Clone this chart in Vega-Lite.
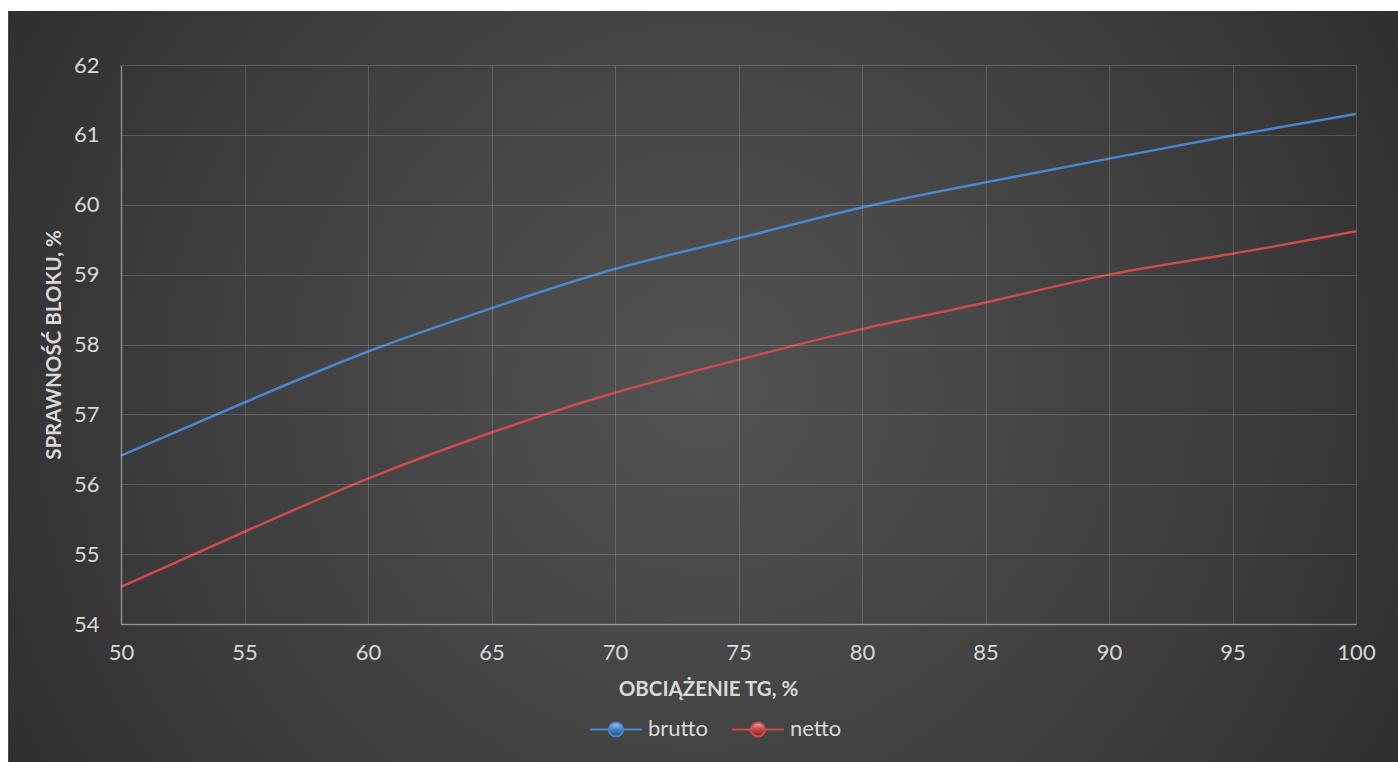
{
  "$schema": "https://vega.github.io/schema/vega-lite/v6.json",
  "width": 1235,
  "height": 559,
  "autosize": {"type": "none"},
  "padding": {"left": 121, "top": 65, "right": 42, "bottom": 138},
  "background": "#ffffff",
  "config": {
    "view": {"stroke": null},
    "font": "Lato",
    "axis": {
      "labelColor": "#d9d9d9",
      "labelFont": "Lato",
      "labelFontSize": 22,
      "labelFlush": false,
      "titleColor": "#d9d9d9",
      "titleFont": "Lato",
      "titleFontSize": 20.5,
      "titleFontWeight": "bold",
      "gridColor": "#d9d9d9",
      "gridOpacity": 0.2,
      "gridWidth": 1,
      "domainColor": "#d9d9d9",
      "domainOpacity": 0.45,
      "domainWidth": 1.5,
      "ticks": false
    }
  },
  "layer": [
    {
      "data": {"values": [{}]},
      "mark": {
        "type": "rect",
        "color": {
          "gradient": "radial",
          "x1": 0.5, "y1": 0.5, "r1": 0,
          "x2": 0.5, "y2": 0.5, "r2": 0.72,
          "stops": [
            {"offset": 0, "color": "#525252"},
            {"offset": 0.55, "color": "#3c3c3c"},
            {"offset": 1, "color": "#232323"}
          ]
        }
      },
      "encoding": {
        "x": {"datum": 45.43, "type": "quantitative"},
        "x2": {"datum": 101.7},
        "y": {"datum": 62.773, "type": "quantitative"},
        "y2": {"datum": 52.02}
      }
    },
    {
      "data": {
        "values": [
          {"load": 50, "eff": 56.41, "series": "brutto"},
          {"load": 55, "eff": 57.17, "series": "brutto"},
          {"load": 60, "eff": 57.90, "series": "brutto"},
          {"load": 65, "eff": 58.52, "series": "brutto"},
          {"load": 70, "eff": 59.08, "series": "brutto"},
          {"load": 75, "eff": 59.52, "series": "brutto"},
          {"load": 80, "eff": 59.96, "series": "brutto"},
          {"load": 85, "eff": 60.32, "series": "brutto"},
          {"load": 90, "eff": 60.66, "series": "brutto"},
          {"load": 95, "eff": 60.99, "series": "brutto"},
          {"load": 100, "eff": 61.30, "series": "brutto"},
          {"load": 50, "eff": 54.53, "series": "netto"},
          {"load": 55, "eff": 55.32, "series": "netto"},
          {"load": 60, "eff": 56.08, "series": "netto"},
          {"load": 65, "eff": 56.74, "series": "netto"},
          {"load": 70, "eff": 57.31, "series": "netto"},
          {"load": 75, "eff": 57.78, "series": "netto"},
          {"load": 80, "eff": 58.22, "series": "netto"},
          {"load": 85, "eff": 58.60, "series": "netto"},
          {"load": 90, "eff": 59.00, "series": "netto"},
          {"load": 95, "eff": 59.30, "series": "netto"},
          {"load": 100, "eff": 59.62, "series": "netto"}
        ]
      },
      "mark": {"type": "line", "interpolate": "natural", "strokeWidth": 2.5},
      "encoding": {
        "x": {
          "field": "load", "type": "quantitative",
          "scale": {"domain": [50, 100], "nice": false, "zero": false},
          "axis": {
            "zindex": 2,
            "grid": true,
            "format": "d",
            "values": [50, 55, 60, 65, 70, 75, 80, 85, 90, 95, 100],
            "title": "OBCIĄŻENIE TG, %",
            "labelPadding": 18,
            "titlePadding": 16,
            "titleX": 587
          }
        },
        "y": {
          "field": "eff", "type": "quantitative",
          "scale": {"domain": [54, 62], "nice": false, "zero": false},
          "axis": {
            "zindex": 2,
            "grid": true,
            "format": "d",
            "values": [54, 55, 56, 57, 58, 59, 60, 61, 62],
            "title": "SPRAWNOŚĆ BLOKU, %",
            "labelPadding": 22,
            "titlePadding": 9
          }
        },
        "color": {
          "field": "series", "type": "nominal",
          "scale": {"domain": ["brutto", "netto"], "range": ["#4a86cc", "#cc4b4b"]},
          "legend": {
            "title": null,
            "orient": "none",
            "direction": "horizontal",
            "legendX": 468,
            "legendY": 637,
            "padding": 0,
            "symbolType": "M-1,0H-0.27M0.27,0H1M0.27,0A0.27,0.27 0 1,1 -0.27,0A0.27,0.27 0 1,1 0.27,0Z",
            "symbolSize": 2704,
            "symbolStrokeWidth": 2,
            "labelColor": "#d9d9d9",
            "labelFont": "Lato",
            "labelFontSize": 22,
            "labelOffset": 5,
            "columnPadding": 19,
            "encode": {
              "symbols": {
                "update": {
                  "fill": {"signal": "datum.value === 'brutto' ? {gradient: 'linear', x1: 0, y1: 0, x2: 0, y2: 1, stops: [{offset: 0, color: '#b4d4f7'}, {offset: 0.45, color: '#4a86cc'}, {offset: 1, color: '#1e4a80'}]} : {gradient: 'linear', x1: 0, y1: 0, x2: 0, y2: 1, stops: [{offset: 0, color: '#f4b4b0'}, {offset: 0.45, color: '#cc4b4b'}, {offset: 1, color: '#7e2222'}]}"},
                  "fillOpacity": {"value": 1},
                  "stroke": {"scale": "color", "field": "value"}
                }
              }
            }
          }
        }
      }
    }
  ]
}
